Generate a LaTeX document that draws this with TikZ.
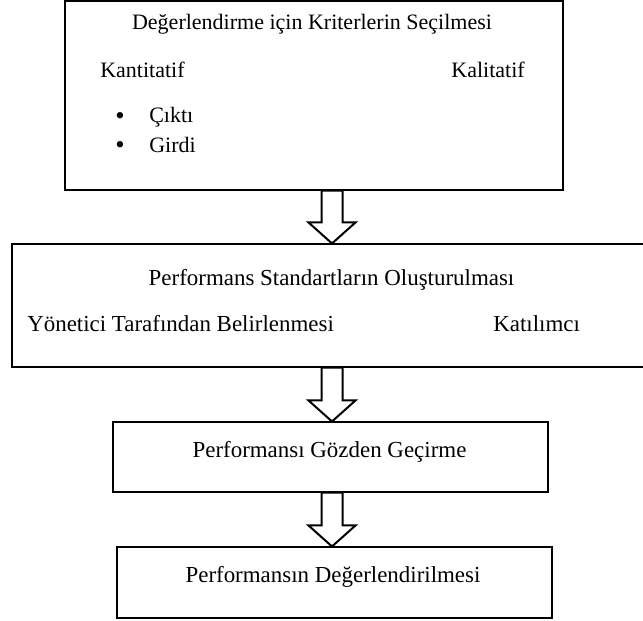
\documentclass[tikz,border=0pt]{standalone}
\usepackage{fontspec}
\setmainfont{Liberation Serif}
\usetikzlibrary{calc}

\tikzset{
  box/.style={draw, line width=0.8pt, inner sep=0pt},
  txt/.style={inner sep=0pt, font=\fontsize{16.5}{20}\selectfont},
  bigtxt/.style={inner sep=0pt, font=\fontsize{17.2}{21}\selectfont},
  dot/.style={inner sep=0pt, anchor=base, font=\fontsize{20}{24}\selectfont},
  blockarrow/.style={line width=1.5pt, line join=miter, fill=white,
    to path={let \p1=(\tikztostart), \p2=(\tikztotarget) in
      (\x1-7.875pt,\y1) -- (\x1-7.875pt,\y2+15.75pt) -- (\x1-17.625pt,\y2+15.75pt)
      -- (\x2,\y2) -- (\x1+17.625pt,\y2+15.75pt) -- (\x1+7.875pt,\y2+15.75pt)
      -- (\x1+7.875pt,\y1) -- cycle}}
}

\begin{document}
\begin{tikzpicture}[x=0.75pt, y=-0.75pt]
  \useasboundingbox (0,0) rectangle (643,621);
  % boxes
  \node[box, minimum width=373.5pt, minimum height=141.75pt] (b1) at (314,95.5) {};
  \node[box, minimum width=477pt, minimum height=92.25pt] (b2) at (330,305.5) {};
  \node[box, minimum width=326.25pt, minimum height=52.5pt] (b3) at (330.5,457) {};
  \node[box, minimum width=326.25pt, minimum height=53.25pt] (b4) at (334.5,582.5) {};
  % texts of the first box
  \node[txt, anchor=base] (t1) at (312,30) {Değerlendirme için Kriterlerin Seçilmesi};
  \node[txt, anchor=base west] (kan) at (100,77) {Kantitatif};
  \node[txt, anchor=base east] (kal) at (525,77) {Kalitatif};
  \node[dot] (d1) at (120,124.6) {\textbullet};
  \node[txt, anchor=base west] (cik) at (149,122.7) {Çıktı};
  \node[dot] (d2) at (120,153.2) {\textbullet};
  \node[txt, anchor=base west] (gir) at (149,152.2) {Girdi};
  % texts of the second box
  \node[bigtxt, anchor=base] (t2) at (331.5,285) {Performans Standartların Oluşturulması};
  \node[bigtxt, anchor=base west] (yon) at (27,331) {Yönetici Tarafından Belirlenmesi};
  \node[bigtxt, anchor=base west] (kat) at (493,331) {Katılımcı};
  % last two boxes
  \node[bigtxt, anchor=base] (t3) at (329.5,457) {Performansı Gözden Geçirme};
  \node[bigtxt, anchor=base] (t4) at (333,582) {Performansın Değerlendirilmesi};
  % arrows
  \coordinate (axis) at (332,0);
  \draw[blockarrow] (b1.south -| axis) to (b2.north -| axis);
  \draw[blockarrow] (b2.south -| axis) to (b3.north -| axis);
  \draw[blockarrow] (b3.south -| axis) to (b4.north -| axis);
\end{tikzpicture}
\end{document}
